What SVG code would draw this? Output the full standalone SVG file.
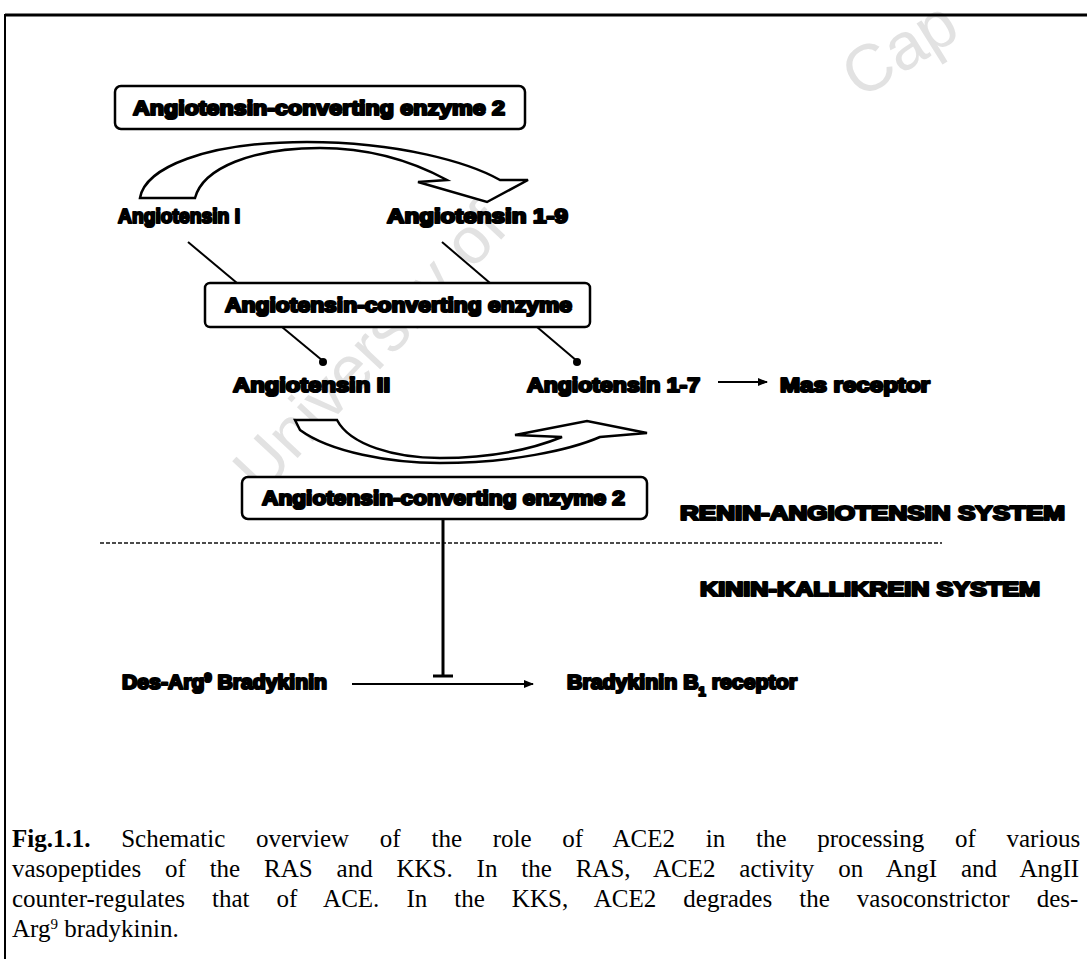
<svg xmlns="http://www.w3.org/2000/svg" width="1087" height="959" viewBox="0 0 1087 959">
<defs>
<style>
.lbl{font-family:"Liberation Sans",Arial,sans-serif;font-weight:bold;font-size:20px;fill:#000;stroke:#000;stroke-width:2.2;stroke-linejoin:round}
.box{fill:#fff;stroke:#000;stroke-width:2.5}
.band{fill:#fff;stroke:#000;stroke-width:2.5;stroke-linejoin:miter}
.ln{stroke:#000;stroke-width:2;fill:none}
.cap{font-family:"Liberation Serif","Times New Roman",serif;font-size:25px;fill:#000}
.wm{font-family:"Liberation Sans",Arial,sans-serif;font-size:66px;fill:#e2e2e2}
</style>
<marker id="ah" viewBox="0 0 10 10" refX="9" refY="5" markerWidth="5" markerHeight="5" orient="auto" markerUnits="strokeWidth"><path d="M0,1 L10,5 L0,9 Z" fill="#000"/></marker>
</defs>
<rect x="0" y="0" width="1087" height="959" fill="#fff"/>
<g id="watermark">
<text class="wm" transform="translate(262,496) rotate(-47)">University of</text>
<text class="wm" transform="translate(860,100) rotate(-32)">Cap</text>
</g>
<g id="frame">
<line x1="5" y1="15" x2="1087" y2="15" stroke="#000" stroke-width="3"/>
<line x1="5" y1="14" x2="5" y2="959" stroke="#000" stroke-width="2"/>
</g>
<g id="connectors">
<path class="band" d="M140,198 C145,168 205,142 307,142 C400,142 470,163 500,180 L528,180 L487,202 L418,182 L447,180 C410,160 370,148 320,148 C252,148 203,168 195,198 Z"/>
<line class="ln" x1="188" y1="242" x2="237" y2="283"/>
<line class="ln" x1="442" y1="242" x2="490" y2="283"/>
<line class="ln" x1="282" y1="327" x2="323" y2="361"/>
<circle cx="323" cy="362" r="4" fill="#000"/>
<line class="ln" x1="537" y1="327" x2="577" y2="361"/>
<circle cx="577" cy="362" r="4" fill="#000"/>
<line class="ln" x1="718" y1="382" x2="767" y2="382" marker-end="url(#ah)"/>
<path class="band" d="M295,420 L300,430 C330,452 390,463 440,463 C510,463 570,450 600,437 L647,433 L587,421 L515,435 L562,437 C530,450 490,458 440,458 C395,458 350,445 337,420 Z"/>
<line x1="100" y1="543" x2="942" y2="543" stroke="#111" stroke-width="1.6" stroke-dasharray="4 2"/>
<line x1="443" y1="519" x2="443" y2="676" stroke="#000" stroke-width="3"/>
<line x1="433" y1="676" x2="453" y2="676" stroke="#000" stroke-width="3"/>
<line class="ln" x1="352" y1="684" x2="533" y2="684" marker-end="url(#ah)"/>
</g>
<g id="ace2-top">
<rect class="box" x="115" y="86" width="410" height="43" rx="6"/>
<text class="lbl" x="133" y="115" textLength="372" lengthAdjust="spacingAndGlyphs">Angiotensin-converting enzyme 2</text>
</g>
<g id="ang1"><text class="lbl" x="118" y="223" textLength="122" lengthAdjust="spacingAndGlyphs">Angiotensin I</text></g>
<g id="ang1-9"><text class="lbl" x="387" y="223" textLength="181" lengthAdjust="spacingAndGlyphs">Angiotensin 1-9</text></g>
<g id="ace">
<rect class="box" x="205" y="283" width="385" height="44" rx="5"/>
<text class="lbl" x="225" y="312" textLength="347" lengthAdjust="spacingAndGlyphs">Angiotensin-converting enzyme</text>
</g>
<g id="ang2"><text class="lbl" x="233" y="392" textLength="157" lengthAdjust="spacingAndGlyphs">Angiotensin II</text></g>
<g id="ang1-7"><text class="lbl" x="527" y="392" textLength="173" lengthAdjust="spacingAndGlyphs">Angiotensin 1-7</text></g>
<g id="mas"><text class="lbl" x="780" y="392" textLength="150" lengthAdjust="spacingAndGlyphs">Mas receptor</text></g>
<g id="ace2-bottom">
<rect class="box" x="242" y="477" width="405" height="42" rx="6"/>
<text class="lbl" x="262" y="505" textLength="363" lengthAdjust="spacingAndGlyphs">Angiotensin-converting enzyme 2</text>
</g>
<g id="ras"><text class="lbl" x="680" y="520" textLength="385" lengthAdjust="spacingAndGlyphs">RENIN-ANGIOTENSIN SYSTEM</text></g>
<g id="kks"><text class="lbl" x="700" y="596" textLength="340" lengthAdjust="spacingAndGlyphs">KININ-KALLIKREIN SYSTEM</text></g>
<g id="desarg"><text class="lbl" x="122" y="689" textLength="205" lengthAdjust="spacingAndGlyphs">Des-Arg<tspan font-size="12" baseline-shift="super">9</tspan> Bradykinin</text></g>
<g id="b1"><text class="lbl" x="567" y="689" textLength="230" lengthAdjust="spacingAndGlyphs">Bradykinin B<tspan font-size="12" baseline-shift="sub">1</tspan> receptor</text></g>
<g id="caption">
<text class="cap" x="12" y="847" word-spacing="24.5"><tspan font-weight="bold">Fig.1.1.</tspan> Schematic overview of the role of ACE2 in the processing of various</text>
<text class="cap" x="12" y="877" word-spacing="17.6">vasopeptides of the RAS and KKS. In the RAS, ACE2 activity on AngI and AngII</text>
<text class="cap" x="12" y="907" word-spacing="20.8">counter-regulates that of ACE. In the KKS, ACE2 degrades the vasoconstrictor des-</text>
<text class="cap" x="12" y="937">Arg<tspan font-size="15" baseline-shift="super">9</tspan> bradykinin.</text>
</g>
</svg>
